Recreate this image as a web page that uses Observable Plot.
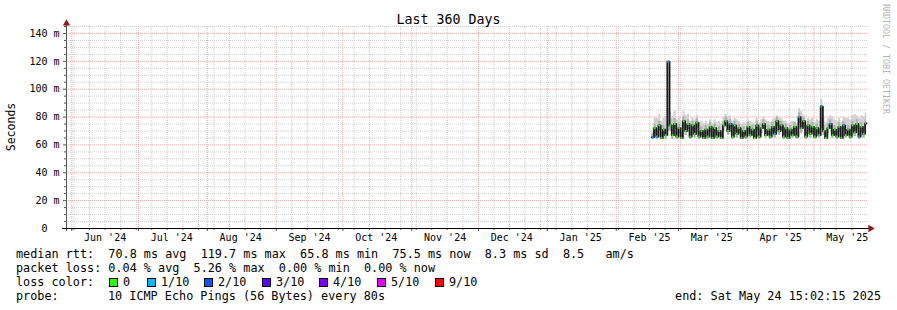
<!DOCTYPE html>
<html><head><meta charset="utf-8">
<script src="https://cdn.jsdelivr.net/npm/d3@7"></script>
<script src="https://cdn.jsdelivr.net/npm/@observablehq/plot@0.6"></script>
<style>
body{margin:0;background:#fff;}
#wrap{position:relative;width:897px;height:310px;overflow:hidden;background:#fff;font-family:"DejaVu Sans Mono",monospace;color:#000;}
#chart{position:absolute;left:0;top:0;}
.t{position:absolute;white-space:pre;font-size:11.8px;line-height:14px;}
.title{position:absolute;left:0;width:897px;text-align:center;top:11px;font-size:13.3px;line-height:17px;white-space:pre;}
.ylab{position:absolute;left:4px;top:127px;font-size:11.5px;line-height:14px;transform-origin:0 0;transform:rotate(-90deg) translate(-50%,0);white-space:pre;}
.side{position:absolute;left:891px;top:4px;font-size:8.3px;line-height:10px;color:#b4b4b4;transform-origin:0 0;transform:rotate(90deg);white-space:pre;}
.sw{position:absolute;width:7px;height:7px;border:1px solid #000;}
</style>
</head><body>
<div id="wrap">
  <div id="chart"></div>
  <div class="title" id="title"></div>
  <div class="ylab" id="ylab"></div>
  <div class="side" id="side"></div>
  <div id="legend"></div>
</div>
<script>
// ---------- data ----------
const titleText = "Last 360 Days";
const yAxisLabel = "Seconds";
const sideText = "RRDTOOL / TOBI OETIKER";

const rangeStart = "2024-05-29T15:02:15Z";
const rangeEnd = "2025-05-24T15:02:15Z";
const seriesStart = "2025-02-17T00:00:00Z"; // one value per day from here

const yMajorTicks = [0, 20, 40, 60, 80, 100, 120, 140];
const yTickLabels = ["0\u00a0\u00a0", "20 m", "40 m", "60 m", "80 m", "100 m", "120 m", "140 m"];
const yMinorStep = 5;
const yMax = 145;

const monthLabels = ["Jun '24","Jul '24","Aug '24","Sep '24","Oct '24","Nov '24","Dec '24","Jan '25","Feb '25","Mar '25","Apr '25","May '25"];

// median rtt (ms), daily
const median = [65.5,72,66,74,65,71,67,119.7,74,67,75,66,72,65,77,70,75,66,74,68,76,66,70,65,71,66,73,65,72,66,70,65,74,77,70,75,66,74,68,72,65,70,66,73,67,71,65,74,66,72,75,67,71,66,73,68,77,70,74,66,72,65,71,67,73,66,80,72,77,66,74,68,73,66,72,67,87.6,70,65,72,75,67,71,66,73,65,74,67,71,66,74,69,75,66,73,68,75.5];
// smoke: lowest ping, upper edge of dense smoke, highest ping (ms)
const smokeLo = [64,68,64,70,64,67,64,70,70,64,71,64,68,64,72,67,71,64,70,65,72,64,67,64,67,64,69,64,68,64,67,64,70,73,67,71,64,70,65,68,64,67,64,69,65,67,64,70,64,68,71,65,67,64,69,65,73,67,70,64,68,64,67,65,69,64,75,68,73,64,70,65,69,64,68,65,72,67,64,68,71,65,67,64,69,64,70,65,67,64,70,66,71,64,69,65,71];
const smokeQ = [68,75,70,77,69,74,71,76,78,71,79,70,75,69,80,74,78,70,77,72,79,70,73,69,74,70,76,69,75,70,73,69,77,80,74,78,70,77,72,75,69,73,70,76,71,74,69,77,70,75,78,71,74,70,76,72,80,74,77,70,75,69,74,71,76,70,83,76,80,70,77,72,76,70,75,71,80,74,69,75,78,71,74,70,76,69,77,71,74,70,77,73,78,70,76,72,78];
const smokeHi = [70,80,79,82,77,79,80,86,83,80,84,78,80,77,84,81,82,77,80,78,81,76,77,75,77,75,78,75,78,76,77,75,80,82,80,81,77,79,78,77,75,76,75,78,77,76,75,79,76,78,80,78,77,76,78,79,81,79,79,77,77,75,76,77,77,75,86,84,81,77,79,78,79,76,78,77,93,79,76,79,81,80,78,77,79,76,80,79,79,78,81,82,81,79,81,80,83];
// packet loss per day (index into loss colour list)
const loss = [1,0,1,0,0,0,0,1,0,0,0,0,0,0,0,0,0,0,0,0,0,0,0,0,0,0,0,0,0,0,0,0,0,0,0,1,0,0,0,0,0,0,0,0,0,0,0,0,0,0,0,0,0,0,0,1,0,0,0,0,0,0,0,0,0,0,1,0,0,0,0,0,0,0,0,0,1,0,0,0,1,0,0,0,0,0,1,0,0,0,0,0,0,1,0,0,0];

const lossLabels = ["0","1/10","2/10","3/10","4/10","5/10","9/10"];
const lossColors = ["#26ff00","#00b8ff","#0059ff","#5e00ff","#7e00ff","#dd00ff","#ff0000"];

const statsLine = "median rtt:  70.8 ms avg  119.7 ms max  65.8 ms min  75.5 ms now  8.3 ms sd  8.5   am/s";
const lossLine = "packet loss: 0.04 % avg  5.26 % max  0.00 % min  0.00 % now";
const lossColorLabel = "loss color:";
const probeLabel = "probe:";
const probeText = "10 ICMP Echo Pings (56 Bytes) every 80s";
const endText = "end: Sat May 24 15:02:15 2025";

// ---------- build ----------
const start = new Date(rangeStart), end = new Date(rangeEnd), s0 = new Date(seriesStart);
const days = median.map((m, i) => ({
  t: d3.utcDay.offset(s0, i),
  t2: d3.min([d3.utcDay.offset(s0, i + 1), end]),
  med: m, lo: smokeLo[i], q: smokeQ[i], hi: smokeHi[i], col: lossColors[loss[i]]
}));
const series = days.concat([{...days[days.length - 1], t: end}]);

const monthStarts = d3.utcMonth.range(d3.utcMonth.ceil(start), end);
const monthMids = monthStarts.map(d => d3.utcDay.offset(d, 15));
const monthLabelMap = new Map(monthMids.map((d, i) => [+d, monthLabels[i]]));
const weeks = d3.utcSunday.range(start, end).filter(d => !monthStarts.some(m => +m === +d));
const yMinor = d3.range(yMinorStep, yMax + 0.1, yMinorStep).filter(v => !yMajorTicks.includes(v));
const yLabelMap = new Map(yMajorTicks.map((v, i) => [v, yTickLabels[i]]));

const minorCol = "#cdcdcd", majorCol = "#f4a4a4", arrowCol = "#8b1a1a";

const chart = Plot.plot({
  width: 897, height: 245,
  marginLeft: 66, marginRight: 31, marginTop: 26, marginBottom: 17,
  x: {type: "utc", domain: [start, end], label: null},
  y: {domain: [0, yMax], label: null},
  color: {type: "identity"},
  style: {fontFamily: "DejaVu Sans Mono", fontSize: "10px", background: "white", color: "black", overflow: "visible"},
  marks: [
    Plot.ruleY(yMinor, {stroke: minorCol, strokeDasharray: "1,1", insetRight: -2}),
    Plot.ruleX(weeks, {stroke: minorCol, strokeDasharray: "1,1"}),
    Plot.ruleY(yMajorTicks.filter(v => v > 0), {stroke: majorCol, strokeDasharray: "1,1", insetRight: -2}),
    Plot.ruleX(monthStarts, {stroke: majorCol, strokeDasharray: "1,1"}),
    Plot.areaY(series, {x: "t", y1: "lo", y2: "hi", curve: "step-after", fill: "#d2d2d2"}),
    Plot.areaY(series, {x: "t", y1: "lo", y2: "q", curve: "step-after", fill: "#b0b0b0"}),
    Plot.line(series, {x: "t", y: "med", curve: "step-after", stroke: "#1a1a1a", strokeWidth: 1.8}),
    Plot.ruleY(days, {y: "med", x1: "t", x2: "t2", stroke: "col", strokeWidth: 2, insetLeft: 0.4}),
    Plot.axisY({ticks: yMinor, tickSize: 2, tickFormat: () => "", label: null, stroke: "#555"}),
    Plot.axisY({ticks: yMajorTicks, tickSize: 3, tickPadding: 4, tickFormat: d => yLabelMap.get(d), fontSize: 10, label: null, stroke: "#555"}),
    Plot.axisX({ticks: weeks, tickSize: 2, tickFormat: () => "", label: null, stroke: "#555"}),
    Plot.axisX({ticks: monthStarts, tickSize: 3, tickFormat: () => "", label: null, stroke: "#555"}),
    Plot.axisX({ticks: monthMids, tickSize: 0, tickPadding: 5, tickFormat: d => monthLabelMap.get(+d), fontSize: 10, label: null}),
    Plot.ruleX([start], {stroke: "#555", insetTop: -3, insetBottom: -3}),
    Plot.ruleY([0], {stroke: "#000", insetLeft: -4, insetRight: -3}),
    Plot.dot([{t: end, v: 0}], {x: "t", y: "v", symbol: "triangle", rotate: 90, r: 2.7, fill: arrowCol, stroke: "none", dx: 4}),
    Plot.dot([{t: start, v: yMax}], {x: "t", y: "v", symbol: "triangle", r: 2.7, fill: arrowCol, stroke: "none", dy: -3})
  ]
});
document.getElementById("chart").appendChild(chart);

document.getElementById("title").textContent = titleText;
document.getElementById("ylab").textContent = yAxisLabel;
document.getElementById("side").textContent = sideText;

const lg = document.getElementById("legend");
function addText(txt, left, top, right) {
  const d = document.createElement("div");
  d.className = "t"; d.textContent = txt; d.style.top = top + "px";
  if (right != null) d.style.right = right + "px"; else d.style.left = left + "px";
  lg.appendChild(d);
}
addText(statsLine, 16, 247);
addText(lossLine, 16, 261);
addText(lossColorLabel, 16, 275);
const swX = [109, 147, 204, 262, 319, 377, 435];
lossLabels.forEach((lab, i) => {
  const s = document.createElement("div");
  s.className = "sw"; s.style.left = swX[i] + "px"; s.style.top = "278px"; s.style.background = lossColors[i];
  lg.appendChild(s);
  addText(lab, swX[i] + 14, 275);
});
addText(probeLabel, 16, 289);
addText(probeText, 108, 289);
addText(endText, null, 289, 16);
</script>
</body></html>
